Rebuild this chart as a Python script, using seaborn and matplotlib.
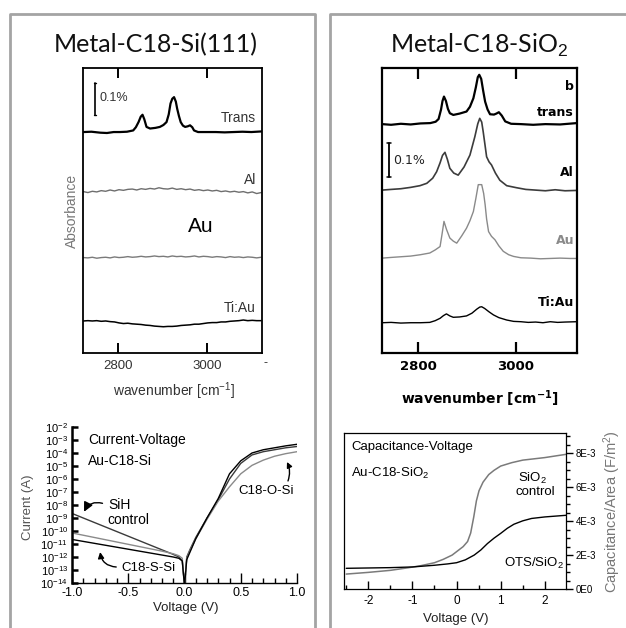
import numpy as np
import pandas as pd
import matplotlib
matplotlib.use("Agg")
import matplotlib.pyplot as plt
from matplotlib.lines import Line2D
from matplotlib.ticker import FixedLocator, FixedFormatter, MultipleLocator, NullLocator
import seaborn as sns

# ---------------- data ----------------
# Left panel: Metal-C18-Si(111) IR spectra (absorbance in %, relative to each baseline)
L_TRANS_WN = [2722, 2740, 2760, 2775, 2790, 2804, 2820, 2834, 2840, 2846, 2851, 2855, 2859, 2864,
              2872, 2884, 2894, 2902, 2909, 2914, 2918, 2922, 2926, 2930, 2933, 2937, 2941, 2946,
              2951, 2957, 2962, 2967, 2971, 2980, 3000, 3020, 3040, 3060, 3080, 3100, 3124]
L_TRANS = [0.000, 0.001, -0.002, -0.003, 0.000, 0.000, 0.001, 0.005, 0.015, 0.031, 0.048, 0.054,
           0.040, 0.016, 0.011, 0.013, 0.016, 0.022, 0.031, 0.055, 0.089, 0.104, 0.109, 0.095,
           0.073, 0.050, 0.031, 0.020, 0.016, 0.018, 0.021, 0.015, 0.005, 0.000, 0.000, 0.000,
           -0.001, 0.000, 0.001, 0.000, 0.002]
L_GRID_WN = [2722, 2732, 2742, 2752, 2762, 2772, 2782, 2792, 2802, 2812, 2822, 2832, 2842, 2852,
             2862, 2872, 2882, 2892, 2902, 2912, 2922, 2932, 2942, 2952, 2962, 2972, 2982, 2992,
             3002, 3012, 3022, 3032, 3042, 3052, 3062, 3072, 3082, 3092, 3102, 3112, 3122]
L_AL = [0.004, 0.001, 0.005, 0.003, 0.007, 0.005, 0.009, 0.006, 0.010, 0.008, 0.011, 0.012, 0.009,
        0.013, 0.011, 0.014, 0.012, 0.016, 0.013, 0.012, 0.015, 0.011, 0.013, 0.010, 0.012, 0.008,
        0.010, 0.007, 0.009, 0.006, 0.008, 0.004, 0.006, 0.003, 0.005, 0.002, 0.004, 0.000, 0.003,
        -0.002, 0.001]
L_AU = [0.001, 0.000, 0.002, -0.001, 0.001, 0.002, 0.000, 0.003, 0.001, 0.002, 0.004, 0.002, 0.003,
        0.005, 0.003, 0.004, 0.006, 0.004, 0.005, 0.003, 0.006, 0.004, 0.005, 0.003, 0.004, 0.006,
        0.003, 0.005, 0.004, 0.002, 0.004, 0.003, 0.001, 0.004, 0.002, 0.003, 0.001, 0.003, 0.002,
        0.000, 0.002]
L_TIAU = [0.000, 0.001, 0.000, 0.001, -0.001, 0.000, -0.002, -0.003, -0.006, -0.008, -0.007, -0.009,
          -0.010, -0.011, -0.013, -0.014, -0.016, -0.017, -0.018, -0.017, -0.017, -0.016, -0.014,
          -0.013, -0.012, -0.010, -0.010, -0.008, -0.006, -0.005, -0.005, -0.003, -0.003, -0.001,
          0.000, 0.001, 0.003, 0.001, 0.002, 0.001, 0.001]

# Right panel: Metal-C18-SiO2 IR spectra
R_TRANS_WN = [2727, 2745, 2765, 2785, 2805, 2825, 2836, 2842, 2847, 2850, 2853, 2857, 2861, 2865,
              2872, 2885, 2899, 2906, 2913, 2918, 2922, 2925, 2929, 2933, 2937, 2942, 2947, 2955,
              2960, 2965, 2971, 2978, 2990, 3010, 3035, 3060, 3090, 3124]
R_TRANS = [-0.003, -0.005, -0.002, -0.004, -0.001, 0.000, 0.004, 0.012, 0.040, 0.065, 0.078, 0.065,
           0.042, 0.029, 0.024, 0.028, 0.034, 0.048, 0.073, 0.105, 0.135, 0.142, 0.130, 0.095,
           0.063, 0.040, 0.026, 0.025, 0.028, 0.032, 0.022, 0.005, -0.002, -0.003, -0.005, -0.003,
           -0.004, 0.000]
R_AL_WN = [2727, 2745, 2765, 2785, 2804, 2818, 2830, 2838, 2845, 2850, 2855, 2860, 2865, 2873, 2882,
           2894, 2906, 2916, 2922, 2926, 2930, 2933, 2937, 2940, 2945, 2950, 2958, 2967, 2981, 3001,
           3020, 3040, 3060, 3080, 3100, 3124]
R_AL = [0.000, 0.002, 0.004, 0.008, 0.013, 0.020, 0.035, 0.054, 0.080, 0.102, 0.111, 0.090, 0.064,
        0.050, 0.044, 0.068, 0.103, 0.157, 0.195, 0.211, 0.200, 0.172, 0.130, 0.098, 0.083, 0.074,
        0.050, 0.029, 0.013, 0.007, 0.002, 0.000, -0.002, 0.001, -0.002, -0.001]
R_AU_WN = [2727, 2745, 2765, 2785, 2805, 2824, 2835, 2845, 2849, 2853, 2858, 2865, 2872, 2879, 2889,
           2899, 2906, 2913, 2918, 2923, 2930, 2934, 2937, 2940, 2944, 2950, 2957, 2965, 2974, 2985,
           2995, 3010, 3030, 3050, 3070, 3090, 3110, 3124]
R_AU = [0.000, 0.002, 0.004, 0.006, 0.010, 0.015, 0.024, 0.034, 0.070, 0.108, 0.085, 0.059, 0.050,
        0.044, 0.065, 0.088, 0.110, 0.137, 0.175, 0.216, 0.216, 0.190, 0.157, 0.115, 0.078, 0.064,
        0.054, 0.036, 0.020, 0.010, 0.005, 0.001, 0.000, -0.002, -0.001, 0.000, -0.001, -0.001]
R_TIAU_WN = [2727, 2745, 2765, 2785, 2805, 2824, 2835, 2845, 2852, 2858, 2865, 2872, 2885, 2899,
             2910, 2920, 2926, 2930, 2936, 2945, 2954, 2965, 2981, 2995, 3010, 3025, 3040, 3055,
             3070, 3085, 3100, 3124]
R_TIAU = [-0.002, -0.001, -0.003, -0.002, -0.002, -0.001, 0.004, 0.011, 0.019, 0.024, 0.018, 0.014,
          0.015, 0.018, 0.026, 0.038, 0.044, 0.045, 0.040, 0.030, 0.021, 0.013, 0.006, 0.002,
          0.001, -0.001, 0.000, -0.002, 0.001, -0.001, 0.000, 0.001]

# Current-Voltage, Au-C18-Si (log10 of current in A)
IV_V = [-1.0, -0.8, -0.6, -0.4, -0.2, -0.1, -0.05, -0.02, 0.0, 0.02, 0.05, 0.1, 0.2, 0.3, 0.4, 0.5,
        0.6, 0.7, 0.8, 0.9, 1.0]
IV_SIH_LOG = [-8.65, -9.35, -10.05, -10.75, -11.45, -11.8, -12.0, -12.3, -14.2, -12.0, -11.4, -10.5,
              -9.0, -7.6, -6.0, -4.8, -4.15, -3.9, -3.75, -3.6, -3.5]
IV_OSI_LOG = [-10.15, -10.5, -10.85, -11.2, -11.55, -11.75, -11.9, -12.1, -14.2, -12.1, -11.5, -10.6,
              -9.1, -7.7, -6.6, -5.6, -4.95, -4.55, -4.25, -4.05, -3.9]
IV_SSI_LOG = [-10.65, -10.95, -11.25, -11.55, -11.85, -12.0, -12.1, -12.3, -14.2, -12.2, -11.6,
              -10.6, -9.0, -7.5, -5.6, -4.6, -4.0, -3.75, -3.6, -3.45, -3.33]
IV_YTICK_EXP = [-14, -13, -12, -11, -10, -9, -8, -7, -6, -5, -4, -3, -2]

# Capacitance-Voltage, Au-C18-SiO2 (F/m^2)
CV_SIO2_V = [-2.5, -2.0, -1.5, -1.1, -0.8, -0.5, -0.3, -0.1, 0.05, 0.15, 0.25, 0.32, 0.39, 0.45,
             0.51, 0.6, 0.73, 0.85, 1.0, 1.25, 1.5, 2.0, 2.5]
CV_SIO2 = [0.88e-3, 0.98e-3, 1.10e-3, 1.25e-3, 1.38e-3, 1.55e-3, 1.75e-3, 2.0e-3, 2.3e-3, 2.5e-3,
           2.8e-3, 3.3e-3, 4.25e-3, 5.2e-3, 5.8e-3, 6.3e-3, 6.75e-3, 7.0e-3, 7.25e-3, 7.45e-3,
           7.6e-3, 7.75e-3, 7.95e-3]
CV_OTS_V = [-2.5, -2.0, -1.5, -1.0, -0.5, -0.2, 0.0, 0.2, 0.4, 0.55, 0.7, 0.85, 1.0, 1.15, 1.3, 1.5,
            1.7, 2.0, 2.5]
CV_OTS = [1.22e-3, 1.24e-3, 1.26e-3, 1.30e-3, 1.40e-3, 1.48e-3, 1.55e-3, 1.72e-3, 2.0e-3, 2.3e-3,
          2.68e-3, 3.0e-3, 3.28e-3, 3.58e-3, 3.82e-3, 4.02e-3, 4.16e-3, 4.25e-3, 4.35e-3]
CV_YTICKS = [0, 2e-3, 4e-3, 6e-3, 8e-3]
CV_YTICKLABELS = ["0E0", "2E-3", "4E-3", "6E-3", "8E-3"]

# ---------------- style ----------------
sns.set_theme(style="ticks")
plt.rcParams['font.family'] = ['Liberation Sans', 'DejaVu Sans']
plt.rcParams['mathtext.fontset'] = 'custom'
plt.rcParams['mathtext.rm'] = 'Liberation Sans'
plt.rcParams['mathtext.it'] = 'Liberation Sans:italic'
plt.rcParams['mathtext.bf'] = 'DejaVu Sans:bold'
plt.rcParams['axes.edgecolor'] = 'black'
plt.rcParams['xtick.color'] = 'black'
plt.rcParams['ytick.color'] = 'black'

W, H = 626, 628
fig = plt.figure(figsize=(W / 100, H / 100), dpi=100)
fig.patch.set_facecolor('white')


def rect(l, t, r, b):
    return [l / W, 1 - b / H, (r - l) / W, (b - t) / H]


def ftext(x, y, s, **kw):
    kw.setdefault('va', 'center')
    return fig.text(x / W, 1 - y / H, s, **kw)


def fline(xs, ys, **kw):
    fig.add_artist(Line2D([x / W for x in xs], [1 - y / H for y in ys],
                          transform=fig.transFigure, **kw))


# panel borders (dotted gray)
bkw = dict(color='#a4a4a4', lw=2.0, solid_capstyle='butt')
fline([10, 10, 315, 315], [640, 14, 14, 640], **bkw)
fline([330, 330, 640], [640, 14, 14], **bkw)

# ---------------- top-left spectra ----------------
ax1 = fig.add_axes(rect(83, 68, 262, 353))
sns.lineplot(x=L_TRANS_WN, y=np.array(L_TRANS) + 0.69, ax=ax1, color='black', lw=1.6)
sns.lineplot(x=L_GRID_WN, y=np.array(L_AL) + 0.50, ax=ax1, color='#6e6e6e', lw=1.0)
sns.lineplot(x=L_GRID_WN, y=np.array(L_AU) + 0.297, ax=ax1, color='#7a7a7a', lw=1.0)
sns.lineplot(x=L_GRID_WN, y=np.array(L_TIAU) + 0.10, ax=ax1, color='black', lw=1.1)
ax1.plot([2748, 2748], [0.744, 0.844], color='black', lw=1.2)
ax1.plot([2745, 2751], [0.744, 0.744], color='black', lw=1.0)
ax1.plot([2745, 2751], [0.844, 0.844], color='black', lw=1.0)
ax1.set_xlim(2721, 3124)
ax1.set_ylim(0, 0.89)
ax1.set_xticks([2800, 3000])
ax1.set_xticklabels(['2800', '3000'])
ax1.set_yticks([])
ax1.set_xlabel('')
ax1.set_ylabel('')
ax1.tick_params(axis='x', direction='in', length=7, width=1.4, top=True, bottom=True,
                labelsize=9.5, labelcolor='#333333', pad=5)
for s in ax1.spines.values():
    s.set_linewidth(1.3)

ftext(156, 45, 'Metal-C18-Si(111)', ha='center', fontsize=18, family=['Lato', 'DejaVu Sans'],
      color='#111111')
ftext(100, 98, '0.1%', ha='left', fontsize=9, color='#333333')
ftext(256, 118, 'Trans', ha='right', fontsize=10, color='#333333')
ftext(256, 180, 'Al', ha='right', fontsize=10, color='#333333')
ftext(201, 226, 'Au', ha='center', fontsize=15, color='black')
ftext(256, 308, 'Ti:Au', ha='right', fontsize=10, color='#333333')
ftext(265, 363, '-', ha='center', fontsize=9, color='#333333')
ftext(174, 391, 'wavenumber [cm$^{-1}$]', ha='center', fontsize=10, color='#333333')
ftext(72, 211, 'Absorbance', ha='center', rotation=90, fontsize=10, color='#777777')

# ---------------- top-right spectra ----------------
ax2 = fig.add_axes(rect(382, 68, 577, 353))
sns.lineplot(x=R_TRANS_WN, y=np.array(R_TRANS) + 0.676, ax=ax2, color='black', lw=1.6)
sns.lineplot(x=R_AL_WN, y=np.array(R_AL) + 0.479, ax=ax2, color='#3c3c3c', lw=1.2)
sns.lineplot(x=R_AU_WN, y=np.array(R_AU) + 0.279, ax=ax2, color='#8a8a8a', lw=1.0)
sns.lineplot(x=R_TIAU_WN, y=np.array(R_TIAU) + 0.091, ax=ax2, color='black', lw=1.0)
ax2.plot([2741, 2741], [0.518, 0.618], color='black', lw=1.3)
ax2.plot([2737, 2745], [0.518, 0.518], color='black', lw=1.1)
ax2.plot([2737, 2745], [0.618, 0.618], color='black', lw=1.1)
ax2.set_xlim(2726.5, 3124.5)
ax2.set_ylim(0, 0.838)
ax2.set_xticks([2800, 3000])
ax2.set_xticklabels(['2800', '3000'], fontweight='bold', family='DejaVu Sans')
ax2.set_yticks([])
ax2.set_xlabel('')
ax2.set_ylabel('')
ax2.tick_params(axis='x', direction='in', length=8, width=1.6, top=True, bottom=True,
                labelsize=9.5, labelcolor='black', pad=5)
for s in ax2.spines.values():
    s.set_linewidth(1.6)

ftext(479, 45, 'Metal-C18-SiO$_2$', ha='center', fontsize=18, family=['Lato', 'DejaVu Sans'],
      color='#111111')
bkw2 = dict(ha='right', fontsize=9, fontweight='bold', family='DejaVu Sans')
ftext(574, 87, 'b', color='black', **bkw2)
ftext(574, 112, 'trans', color='black', **bkw2)
ftext(574, 173, 'Al', color='black', **bkw2)
ftext(574, 240, 'Au', color='#8a8a8a', **bkw2)
ftext(574, 302, 'Ti:Au', color='black', **bkw2)
ftext(393, 161, '0.1%', ha='left', fontsize=9, family='DejaVu Sans', color='#222222')
ftext(480, 399, r'wavenumber [cm$^{\mathbf{-1}}$]', ha='center', fontsize=10, fontweight='bold',
      family='DejaVu Sans', color='black')

# ---------------- bottom-left I-V ----------------
ax3 = fig.add_axes(rect(72, 427, 297, 583))
iv = pd.DataFrame({
    'V': IV_V * 3,
    'logI': IV_SIH_LOG + IV_OSI_LOG + IV_SSI_LOG,
    'sample': ['SiH control'] * len(IV_V) + ['C18-O-Si'] * len(IV_V) + ['C18-S-Si'] * len(IV_V),
})
iv['I'] = np.power(10.0, iv['logI'])
sns.lineplot(data=iv, x='V', y='I', hue='sample', ax=ax3, legend=False, lw=1.0,
             palette={'SiH control': '#3a3a3a', 'C18-O-Si': '#8a8a8a', 'C18-S-Si': 'black'})
ax3.set_yscale('log')
ax3.set_xlim(-1.0, 1.0)
ax3.set_ylim(1e-14, 1e-2)
ax3.yaxis.set_major_locator(FixedLocator([10.0 ** e for e in IV_YTICK_EXP]))
ax3.yaxis.set_major_formatter(FixedFormatter(['10$^{%d}$' % e for e in IV_YTICK_EXP]))
ax3.yaxis.set_minor_locator(NullLocator())
ax3.xaxis.set_major_locator(FixedLocator([-1.0, -0.5, 0.0, 0.5, 1.0]))
ax3.xaxis.set_major_formatter(FixedFormatter(['-1.0', '-0.5', '0.0', '0.5', '1.0']))
ax3.xaxis.set_minor_locator(MultipleLocator(0.1))
ax3.tick_params(axis='y', direction='in', length=4, width=1.8, labelsize=8, pad=3)
ax3.tick_params(axis='x', which='major', direction='in', length=7, width=1.0, labelsize=9, pad=3)
ax3.tick_params(axis='x', which='minor', direction='in', length=3.5, width=1.0)
ax3.spines['top'].set_visible(False)
ax3.spines['right'].set_visible(False)
ax3.spines['left'].set_linewidth(1.8)
ax3.spines['bottom'].set_linewidth(1.0)
ax3.set_xlabel('')
ax3.set_ylabel('')

akw = dict(arrowstyle='-|>', color='black', lw=1.0, shrinkA=0, shrinkB=0)
ax3.annotate('', xy=(-0.893, 10 ** -8.52), xytext=(-0.729, 10 ** -7.87),
             arrowprops=dict(connectionstyle='arc3,rad=0.4', mutation_scale=14, **akw))
ax3.annotate('', xy=(-0.75, 10 ** -11.62), xytext=(-0.607, 10 ** -12.77),
             arrowprops=dict(connectionstyle='arc3,rad=-0.4', mutation_scale=9, **akw))
ax3.annotate('', xy=(0.911, 10 ** -4.69), xytext=(0.92, 10 ** -6.15),
             arrowprops=dict(connectionstyle='arc3,rad=0.2', mutation_scale=8, **akw))

ftext(88, 440, 'Current-Voltage', ha='left', fontsize=10, color='black')
ftext(88, 461, 'Au-C18-Si', ha='left', fontsize=10, color='black')
ftext(108, 505, 'SiH', ha='left', fontsize=10, color='black')
ftext(107, 520, 'control', ha='left', fontsize=10, color='black')
ftext(121, 568, 'C18-S-Si', ha='left', fontsize=9.5, color='black')
ftext(238, 491, 'C18-O-Si', ha='left', fontsize=9.5, color='black')
ftext(28, 507, 'Current (A)', ha='center', rotation=90, fontsize=9.5, color='#555555')
ftext(186, 608, 'Voltage (V)', ha='center', fontsize=9.5, color='#222222')

# ---------------- bottom-right C-V ----------------
ax4 = fig.add_axes(rect(344, 433, 566, 589))
sns.lineplot(x=CV_SIO2_V, y=CV_SIO2, ax=ax4, color='#7a7a7a', lw=1.1)
sns.lineplot(x=CV_OTS_V, y=CV_OTS, ax=ax4, color='black', lw=1.0)
ax4.set_xlim(-2.55, 2.48)
ax4.set_ylim(0, 9.2e-3)
ax4.yaxis.tick_right()
ax4.yaxis.set_major_locator(FixedLocator(CV_YTICKS))
ax4.yaxis.set_major_formatter(FixedFormatter(CV_YTICKLABELS))
ax4.yaxis.set_minor_locator(MultipleLocator(5e-4))
ax4.xaxis.set_major_locator(FixedLocator([-2, -1, 0, 1, 2]))
ax4.xaxis.set_major_formatter(FixedFormatter(['-2', '-1', '0', '1', '2']))
ax4.xaxis.set_minor_locator(MultipleLocator(0.5))
ax4.tick_params(axis='y', which='major', direction='out', length=5, width=1.0, left=False,
                right=True, labelleft=False, labelright=True, labelsize=7, pad=2)
ax4.tick_params(axis='y', which='minor', direction='out', length=3, width=1.0, left=False,
                right=True)
ax4.tick_params(axis='x', which='major', direction='in', length=6, width=1.0, labelsize=8.5, pad=4)
ax4.tick_params(axis='x', which='minor', direction='in', length=3, width=1.0)
for s in ax4.spines.values():
    s.set_linewidth(0.9)
ax4.set_xlabel('')
ax4.set_ylabel('')

ftext(351, 447, 'Capacitance-Voltage', ha='left', fontsize=9.5, color='black')
ftext(351, 473, 'Au-C18-SiO$_2$', ha='left', fontsize=9.5, color='black')
ftext(532, 478, 'SiO$_2$', ha='center', fontsize=9.5, color='black')
ftext(535, 492, 'control', ha='center', fontsize=9.5, color='black')
ftext(564, 563, 'OTS/SiO$_2$', ha='right', fontsize=9.5, color='black')
ftext(612, 512, 'Capacitance/Area (F/m$^2$)', ha='center', rotation=90, fontsize=10.5,
      color='#777777')
ftext(456, 619, 'Voltage (V)', ha='center', fontsize=9.5, color='#222222')

fig.savefig('out.png', dpi=100, facecolor='white')
